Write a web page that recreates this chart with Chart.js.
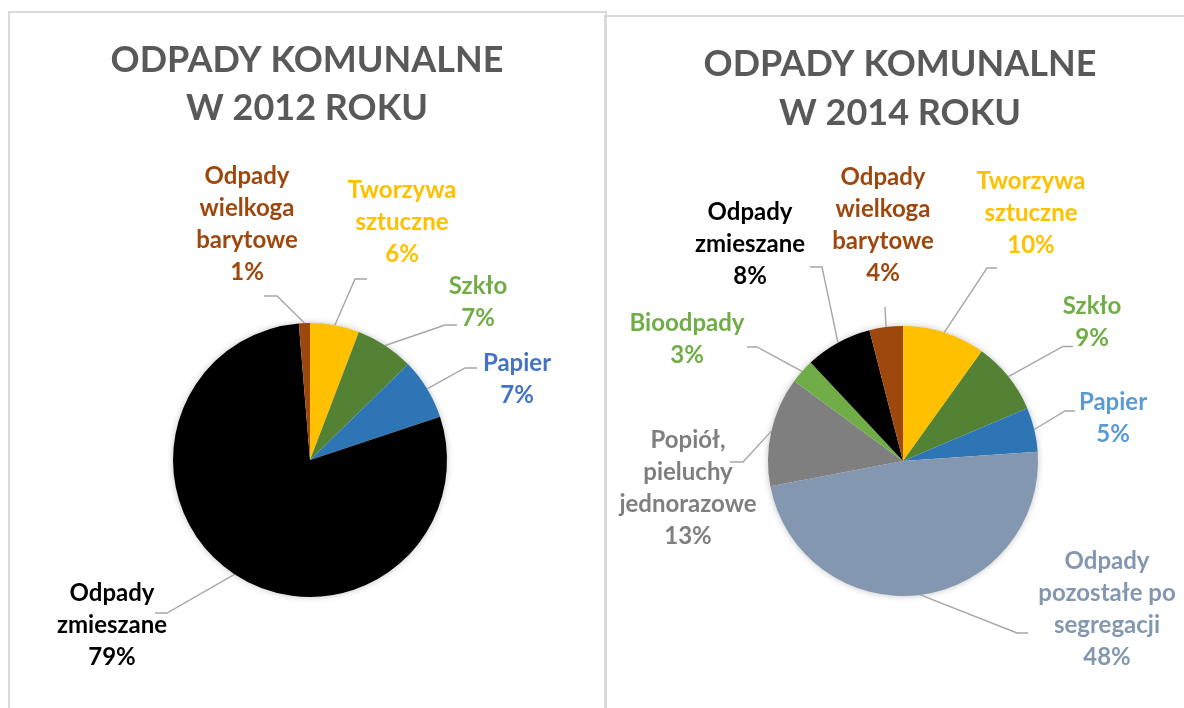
<!DOCTYPE html>
<html>
<head>
<meta charset="utf-8">
<script src="https://cdn.jsdelivr.net/npm/chart.js@4.4.1/dist/chart.umd.min.js"></script>
<style>
html,body{margin:0;padding:0;background:#fff;width:1184px;height:708px;overflow:hidden;position:relative;}
.panel{position:absolute;border:2px solid #d9d9d9;box-sizing:border-box;}
#p1{left:8px;top:11px;width:599px;height:760px;}
#p2{left:604px;top:15px;width:640px;height:760px;}
#w1{position:absolute;left:0;top:0;width:605px;height:708px;}
#w2{position:absolute;left:605px;top:0;width:579px;height:708px;}
</style>
</head>
<body>
<div class="panel" id="p1"></div>
<div class="panel" id="p2"></div>
<div id="w1"><canvas id="c1"></canvas></div>
<div id="w2"><canvas id="c2"></canvas></div>
<script>
// ---------- DATA ----------
const categories2012 = ['Tworzywa sztuczne', 'Szkło', 'Papier', 'Odpady zmieszane', 'Odpady wielkogabarytowe'];
const labelLines2012 = [['Tworzywa', 'sztuczne'], ['Szkło'], ['Papier'], ['Odpady', 'zmieszane'], ['Odpady', 'wielkoga', 'barytowe']];
const values2012 = [5.8, 6.9, 7.2, 78.8, 1.3];
const colors2012 = ['#FFC000', '#548235', '#2E75B6', '#000000', '#9E480E'];
const textColors2012 = ['#FFC000', '#70AD47', '#4472C4', '#000000', '#9E480E'];
const title2012 = ['ODPADY KOMUNALNE', 'W 2012 ROKU'];

const categories2014 = ['Tworzywa sztuczne', 'Szkło', 'Papier', 'Odpady pozostałe po segregacji', 'Popiół, pieluchy jednorazowe', 'Bioodpady', 'Odpady zmieszane', 'Odpady wielkogabarytowe'];
const labelLines2014 = [['Tworzywa', 'sztuczne'], ['Szkło'], ['Papier'], ['Odpady', 'pozostałe po', 'segregacji'], ['Popiół,', 'pieluchy', 'jednorazowe'], ['Bioodpady'], ['Odpady', 'zmieszane'], ['Odpady', 'wielkoga', 'barytowe']];
const values2014 = [9.9, 8.7, 5.3, 48.1, 13.1, 2.9, 8.0, 4.0];
const colors2014 = ['#FFC000', '#548235', '#2E75B6', '#8497B0', '#7F7F7F', '#70AD47', '#000000', '#9E480E'];
const textColors2014 = ['#FFC000', '#70AD47', '#5B9BD5', '#8497B0', '#7F7F7F', '#70AD47', '#000000', '#9E480E'];
const title2014 = ['ODPADY KOMUNALNE', 'W 2014 ROKU'];

// ---------- LABEL LAYOUT (offsets from pie centre, px) ----------
const layout2012 = [
  {pos: [92, -238], elbow: [45, -181], end: [57, -181]},
  {pos: [168, -158], elbow: [135, -135], end: [147, -135]},
  {pos: [207, -81], elbow: [155, -92], end: [167, -92]},
  {pos: [-198, 165], elbow: [-143, 153], end: [-155, 153]},
  {pos: [-63, -236], elbow: [-33, -164], end: [-46, -164]}
];
const layout2014 = [
  {pos: [128, -248], elbow: [84, -193], end: [94, -193]},
  {pos: [189, -139], elbow: [160, -114.5], end: [170, -114.5]},
  {pos: [210, -42.5], elbow: [162, -50], end: [172, -50]},
  {pos: [204, 148.5], elbow: [114, 172], end: [125, 172]},
  {pos: [-215, 27.5], elbow: [-160, 1], end: [-173, 1]},
  {pos: [-216, -122], elbow: [-146, -114], end: [-156, -114]},
  {pos: [-153, -216.5], elbow: [-81, -194], end: [-93, -194]},
  {pos: [-20, -235.5], elbow: [-18, -154], end: [-18, -154]}
];

const LABEL_FONT = 'bold 24px Lato';
const TITLE_FONT = 'bold 36px Lato';

const shadowPlugin = {
  id: 'pieShadow',
  beforeDatasetsDraw(chart) {
    const arc = chart.getDatasetMeta(0).data[0];
    if (!arc) return;
    const p = arc.getProps(['x', 'y', 'outerRadius'], true);
    const ctx = chart.ctx;
    ctx.save();
    ctx.shadowColor = 'rgba(0,0,0,0.28)';
    ctx.shadowBlur = 7;
    ctx.fillStyle = '#ffffff';
    ctx.beginPath();
    ctx.arc(p.x, p.y, p.outerRadius - 0.5, 0, Math.PI * 2);
    ctx.fill();
    ctx.restore();
  }
};

const labelPlugin = {
  id: 'sliceLabels',
  afterDatasetsDraw(chart, args, opts) {
    const ctx = chart.ctx;
    const meta = chart.getDatasetMeta(0);
    const data = chart.data.datasets[0].data;
    const total = data.reduce((a, b) => a + b, 0);
    ctx.save();
    meta.data.forEach((arc, i) => {
      const p = arc.getProps(['x', 'y', 'startAngle', 'endAngle', 'outerRadius'], true);
      const mid = (p.startAngle + p.endAngle) / 2;
      const ax = p.x + p.outerRadius * Math.cos(mid);
      const ay = p.y + p.outerRadius * Math.sin(mid);
      const L = opts.layout[i];
      ctx.strokeStyle = '#A6A6A6';
      ctx.lineWidth = 1.4;
      ctx.beginPath();
      ctx.moveTo(ax, ay);
      ctx.lineTo(p.x + L.elbow[0], p.y + L.elbow[1]);
      ctx.lineTo(p.x + L.end[0], p.y + L.end[1]);
      ctx.stroke();
      const lines = opts.lines[i].concat([Math.round(data[i] / total * 100) + '%']);
      ctx.fillStyle = opts.textColors[i];
      ctx.font = LABEL_FONT;
      ctx.textAlign = 'center';
      ctx.textBaseline = 'middle';
      const lh = 32;
      const y0 = p.y + L.pos[1] - (lines.length - 1) * lh / 2;
      lines.forEach((t, k) => ctx.fillText(t, p.x + L.pos[0], y0 + k * lh));
    });
    // title
    ctx.fillStyle = '#595959';
    ctx.font = TITLE_FONT;
    ctx.textAlign = 'center';
    ctx.textBaseline = 'middle';
    opts.title.forEach((t, k) => ctx.fillText(t, opts.titleX, opts.titleY + k * opts.titleLH));
    ctx.restore();
  }
};

function makePie(id, cats, vals, cols, lines, tcols, layout, title, pad, titleX, titleY, titleLH) {
  return new Chart(document.getElementById(id), {
    type: 'pie',
    data: {
      labels: cats,
      datasets: [{data: vals, backgroundColor: cols, borderWidth: 0, hoverOffset: 0}]
    },
    options: {
      responsive: true,
      maintainAspectRatio: false,
      animation: false,
      events: [],
      layout: {padding: pad},
      plugins: {
        legend: {display: false},
        tooltip: {enabled: false},
        title: {display: false},
        sliceLabels: {layout: layout, lines: lines, textColors: tcols, title: title, titleX: titleX, titleY: titleY, titleLH: titleLH}
      }
    },
    plugins: [shadowPlugin, labelPlugin]
  });
}

makePie('c1', categories2012, values2012, colors2012, labelLines2012, textColors2012, layout2012, title2012,
  {left: 173, right: 158, top: 323, bottom: 111}, 307, 60, 48);
makePie('c2', categories2014, values2014, colors2014, labelLines2014, textColors2014, layout2014, title2014,
  {left: 163, right: 146, top: 326, bottom: 112}, 295, 64, 49);
</script>
</body>
</html>
